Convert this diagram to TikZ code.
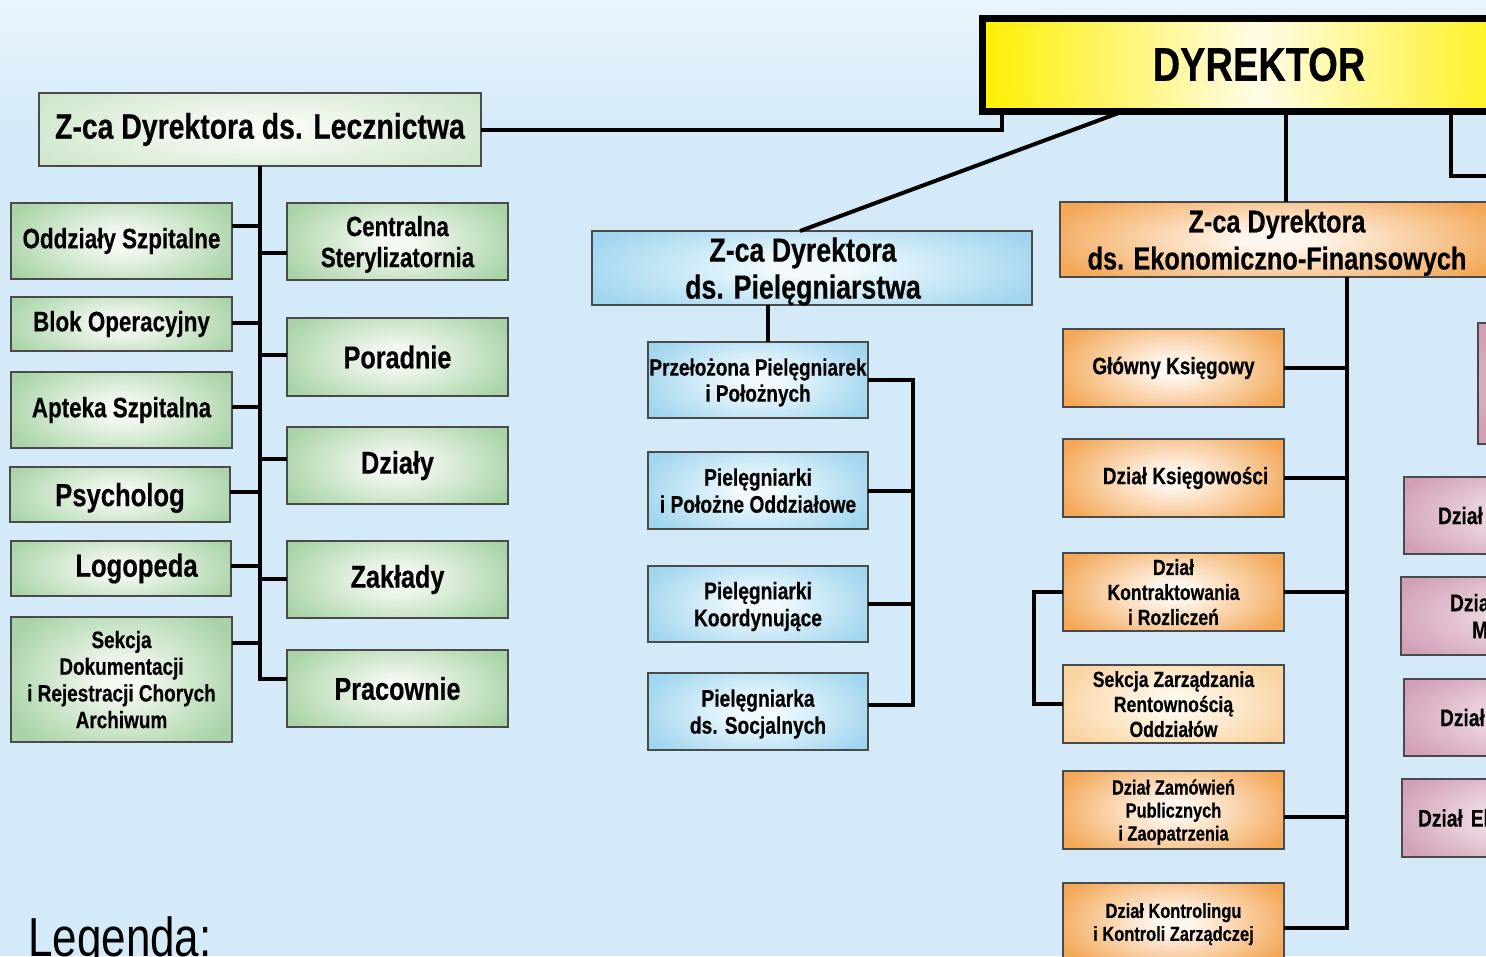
\documentclass[tikz,border=0pt]{standalone}
\usepackage{fontspec}
\setmainfont[FakeStretch=0.8, BoldFeatures={FakeBold=0.4}]{Liberation Sans}
\usetikzlibrary{calc}
\definecolor{bgTop}{HTML}{E9F5FC}
\definecolor{bgBot}{HTML}{D4EAF8}
\definecolor{bord}{HTML}{4A4A4A}
\definecolor{grIn}{HTML}{F5FAF2}
\definecolor{grOut}{HTML}{A9D3A7}
\definecolor{lgIn}{HTML}{F7FBF4}
\definecolor{lgOut}{HTML}{D0E7CD}
\definecolor{blIn}{HTML}{F2FAFE}
\definecolor{blOut}{HTML}{9FD5EE}
\definecolor{orIn}{HTML}{FFF7EF}
\definecolor{orOut}{HTML}{F3A757}
\definecolor{poIn}{HTML}{FFF8EC}
\definecolor{poOut}{HTML}{F9D29E}
\definecolor{pkIn}{HTML}{F7EBF1}
\definecolor{pkOut}{HTML}{D1A0B7}
\definecolor{dyY}{HTML}{FFEF00}
\definecolor{dyC}{HTML}{FFFCE6}
\pgfdeclareradialshading{grnrad}{\pgfpoint{0bp}{0bp}}{color(0bp)=(grIn); color(4bp)=(grIn); color(28bp)=(grOut); color(50bp)=(grOut)}
\pgfdeclareradialshading{lgrrad}{\pgfpoint{0bp}{0bp}}{color(0bp)=(lgIn); color(4bp)=(lgIn); color(28bp)=(lgOut); color(50bp)=(lgOut)}
\pgfdeclareradialshading{blurad}{\pgfpoint{0bp}{0bp}}{color(0bp)=(blIn); color(4bp)=(blIn); color(28bp)=(blOut); color(50bp)=(blOut)}
\pgfdeclareradialshading{orgrad}{\pgfpoint{0bp}{0bp}}{color(0bp)=(orIn); color(4bp)=(orIn); color(28bp)=(orOut); color(50bp)=(orOut)}
\pgfdeclareradialshading{porrad}{\pgfpoint{0bp}{0bp}}{color(0bp)=(poIn); color(4bp)=(poIn); color(28bp)=(poOut); color(50bp)=(poOut)}
\pgfdeclareradialshading{pnkrad}{\pgfpoint{0bp}{0bp}}{color(0bp)=(pkIn); color(4bp)=(pkIn); color(28bp)=(pkOut); color(50bp)=(pkOut)}
\newcommand\fs[2]{\fontsize{#1}{#2}\selectfont\bfseries}
\tikzset{
  conn/.style={draw=black, line width=4pt},
  bx/.style={draw=bord, line width=1.2pt, inner xsep=1pt, inner ysep=0pt, outer sep=0pt, anchor=north west, align=center, text=black},
  ml/.style={text depth=0pt},
  shd/.style={path picture={\shade[shading=#1] ([yshift=-14pt]path picture bounding box.south west) rectangle ([yshift=14pt]path picture bounding box.north east);}},
  grn/.style={bx, shd=grnrad},
  lgr/.style={bx, shd=lgrrad},
  blu/.style={bx, shd=blurad},
  org/.style={bx, shd=orgrad},
  por/.style={bx, shd=porrad},
  pnk/.style={bx, shd=pnkrad},
}
\newcommand\hookL[2]{\coordinate (tmpa) at ([yshift=#2]#1.east); \draw[conn] (tmpa) -- (tmpa -| lecz.south);}
\newcommand\hookR[2]{\coordinate (tmpb) at ([yshift=#2]#1.west); \draw[conn] (tmpb) -- (tmpb -| lecz.south);}
\begin{document}
\begin{tikzpicture}[x=1pt,y=-1pt]
\useasboundingbox (0,0) rectangle (1486,956);
\clip (0,0) rectangle (1486,956);
\fill[top color=bgTop, bottom color=bgBot] (0,0) rectangle (1486,130);
\fill[bgBot] (0,129) rectangle (1486,956);

% director
\node[bx, draw=black, line width=7pt, left color=dyY, right color=dyY, middle color=dyC, minimum width=554pt, minimum height=93pt, font=\fs{47.5}{52}] (dyr) at (982,18) {DYREKTOR};

% medical
\node[lgr, minimum width=442pt, minimum height=73pt, font=\fs{35.5}{40}] (lecz) at (39,93) {Z-ca Dyrektora ds. Lecznictwa};
\node[grn, minimum width=221pt, minimum height=76pt, font=\fs{28}{31}] (odd) at (11,203) {Oddziały Szpitalne};
\node[grn, minimum width=221pt, minimum height=54pt, font=\fs{28}{31}] (blok) at (11,297) {Blok Operacyjny};
\node[grn, minimum width=221pt, minimum height=76pt, font=\fs{28}{31}] (apt) at (11,372) {Apteka Szpitalna};
\node[grn, ml, minimum width=220pt, minimum height=55pt, font=\fs{32}{36}] (psy) at (10,467) {Psycholog};
\node[grn, minimum width=220pt, minimum height=55pt, font=\fs{32}{36}] (logo) at (11,541) {\hspace*{31pt}Logopeda};
\node[grn, ml, minimum width=221pt, minimum height=125pt, font=\fs{23.7}{26.7}] (sek) at (11,617) {Sekcja\\Dokumentacji\\i Rejestracji Chorych\\Archiwum};
\node[grn, ml, minimum width=221pt, minimum height=77pt, font=\fs{27.8}{31}] (cen) at (287,203) {Centralna\\Sterylizatornia};
\node[grn, minimum width=221pt, minimum height=78pt, font=\fs{31.5}{35}] (por) at (287,318) {Poradnie};
\node[grn, minimum width=221pt, minimum height=77pt, font=\fs{31.5}{35}] (dzi) at (287,427) {Działy};
\node[grn, minimum width=221pt, minimum height=77pt, font=\fs{31.5}{35}] (zak) at (287,541) {Zakłady};
\node[grn, minimum width=221pt, minimum height=77pt, font=\fs{31.5}{35}] (prac) at (287,650) {Pracownie};

% nursing
\node[blu, ml, minimum width=440pt, minimum height=74pt, font=\fs{33.4}{37}] (pie) at (592,231) {Z-ca Dyrektora\hspace*{18pt}\\ds. Pielęgniarstwa\hspace*{18pt}};
\node[blu, ml, minimum width=220pt, minimum height=76pt, font=\fs{23.7}{26}] (prz) at (648,342) {Przełożona Pielęgniarek\\i Położnych};
\node[blu, ml, minimum width=220pt, minimum height=77pt, font=\fs{24}{27}] (odz) at (648,452) {Pielęgniarki\\i Położne Oddziałowe};
\node[blu, ml, minimum width=220pt, minimum height=76pt, font=\fs{24}{27}] (koo) at (648,566) {Pielęgniarki\\Koordynujące};
\node[blu, ml, minimum width=220pt, minimum height=77pt, font=\fs{24}{27}] (soc) at (648,673) {Pielęgniarka\\ds. Socjalnych};

% finance
\node[org, ml, minimum width=434pt, minimum height=75pt, font=\fs{31.6}{37}] (eko) at (1060,202) {Z-ca Dyrektora\\ds. Ekonomiczno-Finansowych};
\node[org, minimum width=221pt, minimum height=78pt, font=\fs{23.7}{27}] (glo) at (1063,329) {Główny Księgowy};
\node[org, minimum width=221pt, minimum height=78pt, font=\fs{23.7}{27}] (dks) at (1063,439) {\hspace*{24pt}Dział Księgowości};
\node[org, ml, minimum width=221pt, minimum height=78pt, font=\fs{22}{25}] (kra) at (1063,553) {Dział\\Kontraktowania\\i Rozliczeń};
\node[por, ml, minimum width=221pt, minimum height=78pt, font=\fs{22}{25}] (sza) at (1063,665) {Sekcja Zarządzania\\Rentownością\\Oddziałów};
\node[org, ml, minimum width=221pt, minimum height=78pt, font=\fs{20.5}{23}] (zam) at (1063,771) {Dział Zamówień\\Publicznych\\i Zaopatrzenia};
\node[org, ml, minimum width=221pt, minimum height=78pt, font=\fs{20.5}{23}] (kol) at (1063,883) {Dział Kontrolingu\\i Kontroli Zarządczej};

% right (cut) column
\node[pnk, minimum width=260pt, minimum height=121pt] (pk1) at (1478,323) {};
\node[pnk, text width=220pt, align=left, inner xsep=34pt, minimum height=77pt, font=\fs{24}{27}] (pk2) at (1404,477) {Dział};
\node[pnk, text width=220pt, align=left, inner xsep=49pt, minimum height=78pt, font=\fs{24}{27}] (pk3) at (1401,577) {Dział\\\hspace*{22pt}M};
\node[pnk, text width=220pt, align=left, inner xsep=36pt, minimum height=77pt, font=\fs{24}{27}] (pk4) at (1404,679) {Dział};
\node[pnk, text width=220pt, align=left, inner xsep=16pt, minimum height=78pt, font=\fs{24}{27}] (pk5) at (1402,779) {Dział Ek};

% legend
\node[anchor=base west, inner sep=0pt, font=\fontsize{55}{60}\selectfont] (leg) at (28,956) {Legenda:};

% connectors from director
\draw[conn] (lecz.east) -| ([xshift=20pt]dyr.south west);
\draw[conn] ([xshift=142pt]dyr.south west) -- ([xshift=-12pt]pie.north);
\draw[conn] ([xshift=9pt]eko.north) -- ([xshift=9pt]eko.north |- dyr.south);
\coordinate (rv) at (1451,176);
\coordinate (rr) at (1500,176);
\draw[conn] (rv |- dyr.south) -- (rv) -- (rr);

% medical tree
\coordinate (pracj) at ([yshift=10pt]prac.west);
\draw[conn] (lecz.south) -- (lecz.south |- pracj) -- (pracj);
\hookL{odd}{15pt}
\hookL{blok}{1pt}
\hookL{apt}{3pt}
\hookL{psy}{3pt}
\hookL{logo}{3pt}
\hookL{sek}{36.5pt}
\hookR{cen}{-11.5pt}
\hookR{por}{2pt}
\hookR{dzi}{7pt}
\hookR{zak}{1pt}

% nursing tree
\draw[conn] ([xshift=10pt]prz.north) -- ([xshift=10pt]prz.north |- pie.south);
\coordinate (spP) at (913,0);
\coordinate (socj) at ([yshift=7pt]soc.east);
\draw[conn] (prz.east) -| (spP |- socj) -- (socj);
\draw[conn] (odz.east) -- (odz.east -| spP);
\draw[conn] (koo.east) -- (koo.east -| spP);

% finance tree
\coordinate (spE) at (1347,0);
\coordinate (kolj) at ([yshift=-6pt]kol.east);
\coordinate (zamj) at ([yshift=-7pt]zam.east);
\draw[conn] (eko.south -| spE) |- (kolj);
\draw[conn] (glo.east) -- (glo.east -| spE);
\draw[conn] (dks.east) -- (dks.east -| spE);
\draw[conn] (kra.east) -- (kra.east -| spE);
\draw[conn] (zamj) -- (zamj -| spE);
\draw[conn] (kra.west) -- ++(-29,0) |- (sza.west);
\end{tikzpicture}
\end{document}
